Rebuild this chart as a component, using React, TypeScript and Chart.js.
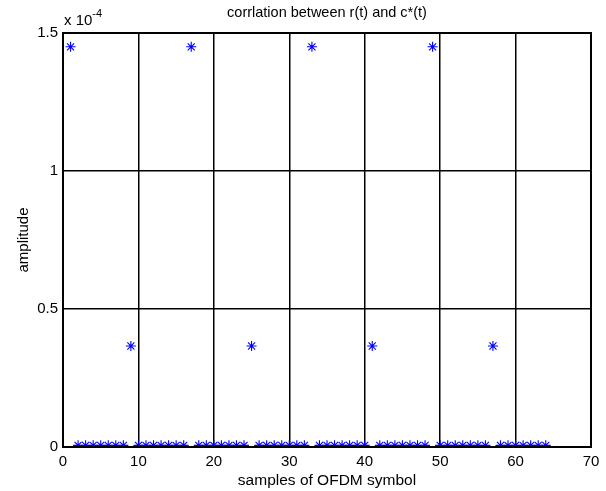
import React, { useEffect, useRef } from "react";
import { Chart, registerables } from "chart.js";

Chart.register(...registerables);

const sampleIndex = [
  1, 2, 3, 4, 5, 6, 7, 8, 9, 10, 11, 12, 13, 14, 15, 16,
  17, 18, 19, 20, 21, 22, 23, 24, 25, 26, 27, 28, 29, 30, 31, 32,
  33, 34, 35, 36, 37, 38, 39, 40, 41, 42, 43, 44, 45, 46, 47, 48,
  49, 50, 51, 52, 53, 54, 55, 56, 57, 58, 59, 60, 61, 62, 63, 64,
];
// amplitude in units of 1e-4
const amplitude = [
  1.45, 0.006, 0.006, 0.006, 0.006, 0.006, 0.006, 0.006, 0.366, 0.006, 0.006, 0.006, 0.006, 0.006, 0.006, 0.006,
  1.45, 0.006, 0.006, 0.006, 0.006, 0.006, 0.006, 0.006, 0.366, 0.006, 0.006, 0.006, 0.006, 0.006, 0.006, 0.006,
  1.45, 0.006, 0.006, 0.006, 0.006, 0.006, 0.006, 0.006, 0.366, 0.006, 0.006, 0.006, 0.006, 0.006, 0.006, 0.006,
  1.45, 0.006, 0.006, 0.006, 0.006, 0.006, 0.006, 0.006, 0.366, 0.006, 0.006, 0.006, 0.006, 0.006, 0.006, 0.006,
];
const chartTitle = "corrlation between r(t) and c*(t)";
const xLabel = "samples of OFDM symbol";
const yLabel = "amplitude";
const yTicks = [0, 0.5, 1, 1.5];
const xTicks = [0, 10, 20, 30, 40, 50, 60, 70];

const FONT = 'Arial, "Liberation Sans", sans-serif';

const decorPlugin = {
  id: "decor",
  afterDatasetsDraw(chart: any) {
    const { ctx, chartArea } = chart;
    ctx.save();
    ctx.strokeStyle = "#000";
    ctx.lineWidth = 2;
    ctx.strokeRect(
      Math.round(chartArea.left),
      Math.round(chartArea.top),
      Math.round(chartArea.right - chartArea.left),
      Math.round(chartArea.bottom - chartArea.top)
    );
    ctx.fillStyle = "#000";
    ctx.font = `14.5px ${FONT}`;
    ctx.textAlign = "center";
    ctx.textBaseline = "middle";
    ctx.fillText(chartTitle, (chartArea.left + chartArea.right) / 2, 13);
    // exponent label
    ctx.textAlign = "left";
    ctx.textBaseline = "alphabetic";
    ctx.font = `15px ${FONT}`;
    const base = "x 10";
    ctx.fillText(base, chartArea.left + 1, 25);
    const w = ctx.measureText(base).width;
    ctx.font = `11px ${FONT}`;
    ctx.fillText("-4", chartArea.left + 1 + w, 17);
    ctx.restore();
  },
};

export default function App() {
  const ref = useRef<HTMLCanvasElement | null>(null);
  useEffect(() => {
    document.body.style.margin = "0";
    const canvas = ref.current!;
    const chart = new Chart(canvas, {
      type: "scatter",
      data: {
        datasets: [
          {
            data: sampleIndex.map((x, i) => ({ x, y: amplitude[i] })),
            pointStyle: "star",
            pointRadius: 5,
            pointBorderWidth: 1.1,
            borderColor: "#0000ff",
            backgroundColor: "#0000ff",
          },
        ],
      },
      options: {
        animation: false,
        responsive: false,
        maintainAspectRatio: false,
        layout: { padding: { top: 33, right: 15, left: 0, bottom: 0 } },
        plugins: {
          legend: { display: false },
          tooltip: { enabled: false },
          title: { display: false },
        },
        scales: {
          x: {
            type: "linear",
            min: 0,
            max: 70,
            afterBuildTicks: (s: any) => {
              s.ticks = xTicks.map((v) => ({ value: v }));
            },
            afterFit: (s: any) => {
              s.height = 44;
            },
            grid: { color: "#000", lineWidth: 1.5, drawTicks: false },
            border: { display: true, color: "#000", width: 2 },
            ticks: {
              color: "#000",
              font: { family: FONT, size: 15 },
              padding: 6,
              maxRotation: 0,
            },
            title: {
              display: true,
              text: xLabel,
              color: "#000",
              font: { family: FONT, size: 15.5 },
              padding: { top: 0, bottom: 1 },
            },
          },
          y: {
            type: "linear",
            min: 0,
            max: 1.5,
            afterBuildTicks: (s: any) => {
              s.ticks = yTicks.map((v) => ({ value: v }));
            },
            afterFit: (s: any) => {
              s.width = 63;
            },
            grid: { color: "#000", lineWidth: 1.5, drawTicks: false },
            border: { display: true, color: "#000", width: 2 },
            ticks: {
              color: "#000",
              font: { family: FONT, size: 15 },
              padding: 5,
              callback: (v: any) => String(v),
            },
            title: {
              display: true,
              text: yLabel,
              color: "#000",
              font: { family: FONT, size: 15 },
              padding: { top: 15, bottom: 0 },
            },
          },
        },
      },
      plugins: [decorPlugin],
    });
    return () => chart.destroy();
  }, []);
  return (
    <div style={{ width: 606, height: 491, background: "#fff" }}>
      <canvas ref={ref} width={606} height={491} style={{ display: "block" }} />
    </div>
  );
}
